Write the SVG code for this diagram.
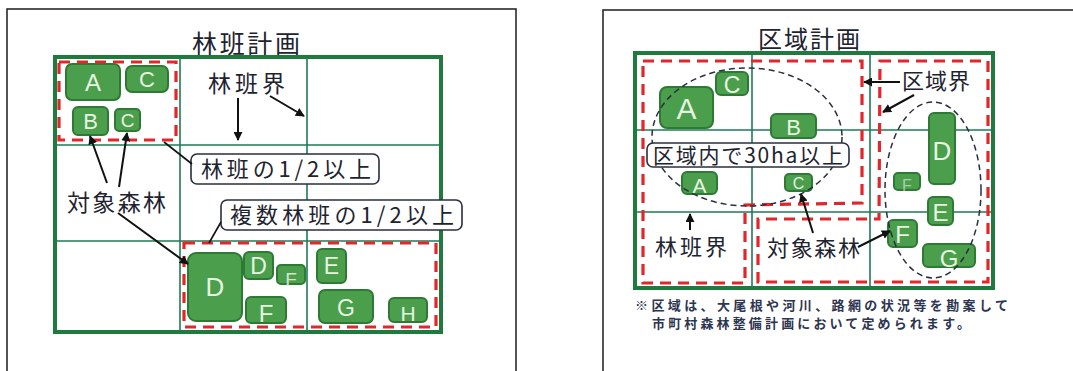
<svg xmlns="http://www.w3.org/2000/svg" width="1073" height="371" viewBox="0 0 1073 371">
<defs>
<style>
.frame{fill:#fff;stroke:#2a2a2a;stroke-width:1.6}
.gridO{fill:#fff;stroke:#1f7a3e;stroke-width:4}
.gridI{fill:none;stroke:#1f7a55;stroke-width:1.6}
.red{fill:none;stroke:#e3262b;stroke-width:3.2;stroke-dasharray:11 7}
.ell{fill:none;stroke:#2a2f40;stroke-width:1.5;stroke-dasharray:6 4}
.box{fill:#4a9e4c;stroke:#2d7a35;stroke-width:2}
.bl{font-family:"Liberation Sans",Arial,sans-serif;fill:#e6f4e0;text-anchor:middle}
.t{font-family:"Noto Sans CJK JP","Noto Sans CJK SC",sans-serif;fill:#1e2330}
.lb{fill:#fff;stroke:#2a2f40;stroke-width:1.6}
.arr{stroke:#111;stroke-width:2;fill:none;marker-end:url(#ah)}
.ln{stroke:#111;stroke-width:1.6;fill:none}
.note{font-family:"Noto Sans CJK JP","Noto Sans CJK SC",sans-serif;fill:#2d3550;font-size:13px;font-weight:bold}
</style>
<marker id="ah" viewBox="0 0 10 10" refX="9" refY="5" markerWidth="4.5" markerHeight="4.5" orient="auto" markerUnits="strokeWidth">
<path d="M0,0 L10,5 L0,10 z" fill="#111"/>
</marker>
</defs>

<!-- Left panel -->
<g id="panel-left">
<rect class="frame" x="7" y="9" width="509" height="380"/>
<text class="t" x="192" y="53" font-size="25" textLength="108" lengthAdjust="spacing">林班計画</text>
<rect class="gridO" x="55" y="57" width="386" height="275"/>
<line class="gridI" x1="180" y1="57" x2="180" y2="332"/>
<line class="gridI" x1="307" y1="57" x2="307" y2="332"/>
<line class="gridI" x1="55" y1="145" x2="441" y2="145"/>
<line class="gridI" x1="55" y1="241" x2="441" y2="241"/>
</g>

<g id="left-boxes">
<g id="L-A"><rect class="box" x="66" y="64" width="54" height="36" rx="6"/><text class="bl" x="93" y="91" font-size="24">A</text></g>
<g id="L-C1"><rect class="box" x="126" y="66" width="42" height="26" rx="6"/><text class="bl" x="147" y="87" font-size="22">C</text></g>
<g id="L-B"><rect class="box" x="73" y="107" width="35" height="28" rx="5"/><text class="bl" x="90.5" y="129" font-size="22">B</text></g>
<g id="L-C2"><rect class="box" x="115" y="109" width="25" height="22" rx="4"/><text class="bl" x="127.5" y="127" font-size="19">C</text></g>
<g id="L-D1"><rect class="box" x="188" y="253" width="54" height="68" rx="8"/><text class="bl" x="215" y="296" font-size="26">D</text></g>
<g id="L-D2"><rect class="box" x="244" y="252" width="29" height="27" rx="5"/><text class="bl" x="258.5" y="274" font-size="23">D</text></g>
<g id="L-F1"><rect class="box" x="277" y="265" width="28" height="19" rx="4"/><text class="bl" x="291" y="286" font-size="19" opacity="0.85">F</text></g>
<g id="L-F2"><rect class="box" x="246" y="297" width="40" height="26" rx="5"/><text class="bl" x="266" y="322" font-size="24">F</text></g>
<g id="L-E"><rect class="box" x="317" y="249" width="29" height="34" rx="5"/><text class="bl" x="331.5" y="274" font-size="23">E</text></g>
<g id="L-G"><rect class="box" x="319" y="290" width="54" height="33" rx="6"/><text class="bl" x="346" y="316" font-size="23">G</text></g>
<g id="L-H"><rect class="box" x="389" y="298" width="38" height="24" rx="5"/><text class="bl" x="408" y="321" font-size="21">H</text></g>
</g>

<g id="left-regions">
<rect id="L-region1" class="red" x="59" y="62" width="117" height="78"/>
<rect id="L-region2" class="red" x="184" y="243" width="252" height="84"/>
</g>

<g id="left-labels">
<g id="L-rinpankai"><text class="t" x="208" y="92" font-size="23" textLength="77" lengthAdjust="spacing">林班界</text></g>
<g id="L-half"><rect class="lb" x="191" y="154" width="188" height="30" rx="6"/><text class="t" x="201" y="177" font-size="22" textLength="170" lengthAdjust="spacing">林班の1/2以上</text></g>
<g id="L-multi"><rect class="lb" x="221" y="200" width="241" height="30" rx="6"/><text class="t" x="230" y="223" font-size="22" textLength="224" lengthAdjust="spacing">複数林班の1/2以上</text></g>
<g id="L-target"><text class="t" x="67" y="211" font-size="23" textLength="99" lengthAdjust="spacing">対象森林</text></g>
</g>

<!-- Right panel -->
<g id="panel-right">
<rect class="frame" x="603" y="10" width="480" height="380"/>
<text class="t" x="758" y="48" font-size="24" textLength="102" lengthAdjust="spacing">区域計画</text>
<rect class="gridO" x="635" y="53" width="358" height="235"/>
<line class="gridI" x1="752" y1="53" x2="752" y2="288"/>
<line class="gridI" x1="870" y1="53" x2="870" y2="288"/>
<line class="gridI" x1="635" y1="130" x2="993" y2="130"/>
<line class="gridI" x1="635" y1="212" x2="993" y2="212"/>
<text class="note" x="635" y="310" textLength="373" lengthAdjust="spacing">※区域は、大尾根や河川、路網の状況等を勘案して</text>
<text class="note" x="652" y="328" textLength="318" lengthAdjust="spacing">市町村森林整備計画において定められます。</text>
</g>

<g id="right-boxes">
<g id="R-A1"><rect class="box" x="660" y="87" width="53" height="41" rx="7"/><text class="bl" x="686.5" y="119" font-size="30">A</text></g>
<g id="R-C1"><rect class="box" x="716" y="72" width="32" height="23" rx="5"/><text class="bl" x="732" y="93" font-size="23">C</text></g>
<g id="R-B"><rect class="box" x="771" y="114" width="45" height="24" rx="5"/><text class="bl" x="793.5" y="135" font-size="22">B</text></g>
<g id="R-A2"><rect class="box" x="682" y="172" width="35" height="22" rx="5"/><text class="bl" x="699.5" y="193" font-size="21">A</text></g>
<g id="R-C2"><rect class="box" x="785" y="174" width="27" height="17" rx="4"/><text class="bl" x="798.5" y="189" font-size="16">C</text></g>
<g id="R-D"><rect class="box" x="929" y="113" width="26" height="71" rx="5"/><text class="bl" x="942" y="160" font-size="26">D</text></g>
<g id="R-F1"><rect class="box" x="894" y="173" width="26" height="17" rx="4"/><text class="bl" x="907" y="191" font-size="16" opacity="0.6">F</text></g>
<g id="R-E"><rect class="box" x="928" y="197" width="25" height="28" rx="5"/><text class="bl" x="940.5" y="221" font-size="24">E</text></g>
<g id="R-F2"><rect class="box" x="888" y="220" width="29" height="27" rx="5"/><text class="bl" x="902.5" y="243" font-size="24">F</text></g>
<g id="R-G"><rect class="box" x="923" y="244" width="52" height="23" rx="5"/><text class="bl" x="949" y="267" font-size="24">G</text></g>
</g>

<g id="right-regions">
<path id="R-region1" class="red" d="M643,61 L862,61 L862,203 L745,205 L745,283 L643,283 Z"/>
<path id="R-region2" class="red" d="M880,61 L988,61 L988,282 L758,282 L758,219 L879,219 Z"/>
<ellipse id="R-ellipse1" class="ell" cx="747" cy="137" rx="95" ry="69"/>
<ellipse id="R-ellipse2" class="ell" cx="933" cy="190" rx="48" ry="88"/>
</g>

<g id="right-labels">
<g id="R-kuikikai"><text class="t" x="902" y="89" font-size="22" textLength="68" lengthAdjust="spacing">区域界</text></g>
<g id="R-30ha"><rect class="lb" x="647" y="143" width="202" height="24" rx="6"/><text class="t" x="653" y="163" font-size="21" textLength="190" lengthAdjust="spacing">区域内で30ha以上</text></g>
<g id="R-rinpankai"><text class="t" x="655" y="255" font-size="22" textLength="72" lengthAdjust="spacing">林班界</text></g>
<g id="R-target"><text class="t" x="767" y="256" font-size="22" textLength="93" lengthAdjust="spacing">対象森林</text></g>
</g>

<g id="connectors">
<line class="arr" x1="238" y1="98" x2="238" y2="140"/>
<line class="arr" x1="270" y1="96" x2="304" y2="116"/>
<line class="arr" x1="107" y1="183" x2="90" y2="136"/>
<line class="arr" x1="119" y1="187" x2="127" y2="133"/>
<line class="arr" x1="118" y1="213" x2="188" y2="264"/>
<line class="ln" x1="164" y1="142" x2="192" y2="164"/>
<line class="ln" x1="221" y1="222" x2="209" y2="243"/>
<line class="arr" x1="900" y1="82" x2="864" y2="82"/>
<line class="arr" x1="914" y1="95" x2="883" y2="112"/>
<line class="arr" x1="690" y1="230" x2="690" y2="214"/>
<line class="arr" x1="813" y1="233" x2="801" y2="194"/>
<line class="arr" x1="858" y1="247" x2="890" y2="231"/>
</g>
</svg>
